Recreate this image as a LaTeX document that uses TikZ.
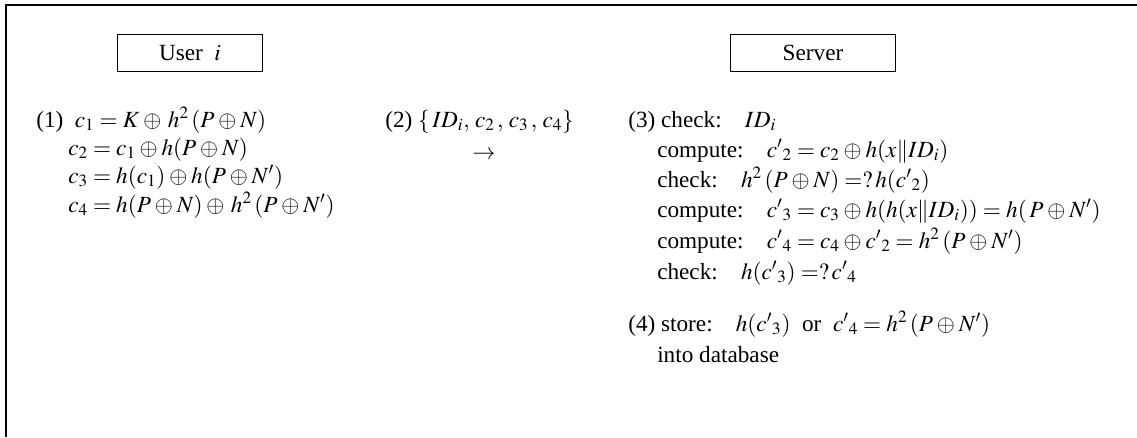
\documentclass[tikz,border=0pt]{standalone}
\usepackage{mathptmx}
\usepackage{fontspec}
\setmainfont{Liberation Serif}
\tikzset{
  party/.style={draw,line width=0.9pt,minimum height=0.92cm,inner sep=0pt},
  step txt/.style={anchor=base west,inner sep=0pt,text height=0.72em,text depth=0.2em},
}
\newcommand{\cp}[1]{{c'}_{#1}}
\begin{document}
\fontsize{16.5}{19}\selectfont
\medmuskip=3mu
\begin{tikzpicture}[x=0.025cm,y=-0.025cm]
\useasboundingbox (0,0) rectangle (1137,437);
% frame
\draw[line width=1.1pt] (6,437) -- (6,5) -- (1137,5);
% headers
\node[party,minimum width=3.62cm] (user) at (190,53) {User\ \ $i$};
\node[party,minimum width=4.12cm] (server) at (813,53) {Server};
% user side
\node[step txt] (u1) at (36,127) {(1)\ \ $c_1 = K\oplus\, h^2\,(P\oplus N)$};
\node[step txt] (u2) at (68,155) {$c_2 = c_1\oplus h(P\oplus N)$};
\node[step txt] (u3) at (68,183) {$c_3 = h(c_1)\oplus h(P\oplus N')$};
\node[step txt] (u4) at (68,212) {$c_4 = h(P\oplus N)\oplus\, h^2\,(P\oplus N')$};
% message
\node[step txt] (m1) at (385,127) {(2) $\{\,ID_i,\,c_2\,,\,c_3\,,\,c_4\}$};
\node[step txt] (m2) at (472,159) {$\rightarrow$};
% server side
\node[step txt] (s1) at (628,127) {(3)\ check:\quad$ID_i$};
\node[step txt] (s2) at (657,157) {compute:\quad$\cp{2} = c_2\oplus h(x\|ID_i)$};
\node[step txt] (s3) at (657,187) {check:\quad$h^2\,(P\oplus N) =?\,h(\cp{2})$};
\node[step txt] (s4) at (657,217) {compute:\quad$\cp{3} = c_3\oplus h(h(x\|ID_i)) = h(\,P\oplus N')$};
\node[step txt] (s5) at (657,248) {compute:\quad$\cp{4} = c_4\oplus \cp{2} = h^2\,(P\oplus N')$};
\node[step txt] (s6) at (657,279) {check:\quad$h(\cp{3}) =?\,\cp{4}$};
\node[step txt] (s7) at (628,331) {(4)\ store:\quad$h(\cp{3})$\ \ or\ \ $\cp{4} = h^2\,(P\oplus N')$};
\node[step txt] (s8) at (657,362) {into database};
\end{tikzpicture}
\end{document}
